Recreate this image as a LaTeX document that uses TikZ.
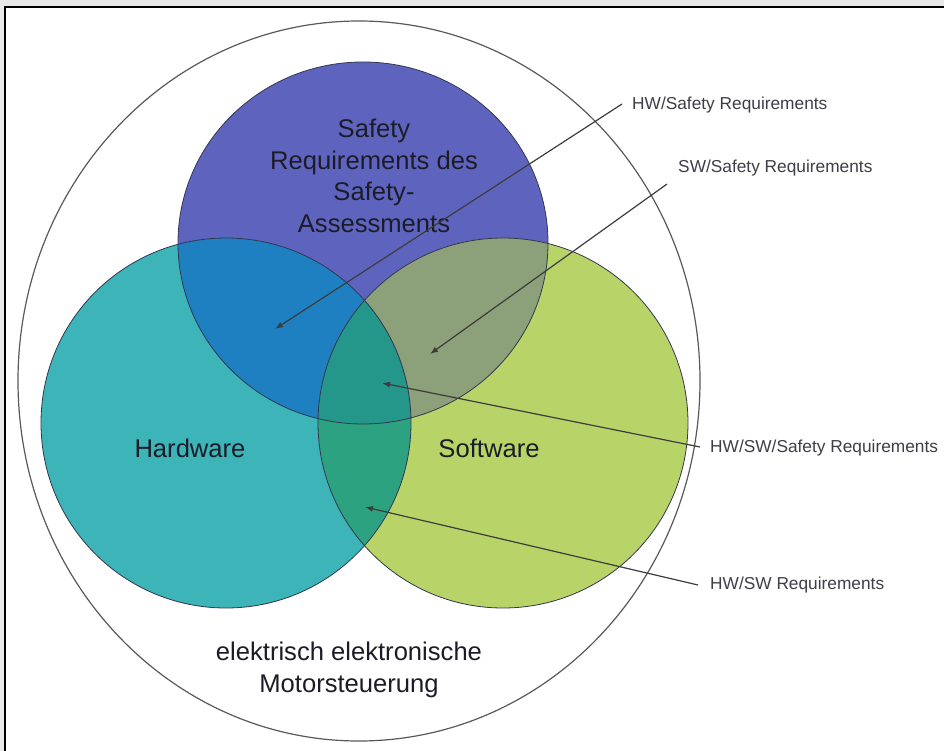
\documentclass[tikz,border=0pt]{standalone}
\usepackage{fontspec}
\setmainfont{Liberation Sans}
\usetikzlibrary{arrows.meta}
\definecolor{framegray}{RGB}{232,233,232}
\definecolor{safetyc}{RGB}{94,100,190}
\definecolor{hwc}{RGB}{60,180,184}
\definecolor{swc}{RGB}{184,212,104}
\definecolor{hwsafc}{RGB}{30,128,192}
\definecolor{swsafc}{RGB}{140,160,122}
\definecolor{hwswc}{RGB}{44,162,128}
\definecolor{triplec}{RGB}{36,150,138}
\definecolor{edgec}{RGB}{50,55,80}
\definecolor{linec}{RGB}{60,60,60}
\definecolor{txtc}{RGB}{28,28,40}
\begin{document}
\begin{tikzpicture}[x=1pt,y=-1pt,
  bigtxt/.style={text=txtc, align=center, font=\fontsize{25.6}{31.5}\selectfont, inner sep=0pt},
  lbl/.style={text=txtc!85, anchor=west, font=\fontsize{17.3}{20}\selectfont, inner sep=0pt},
  conn/.style={draw=linec, line width=1.2pt, -{Latex[length=8pt,width=6pt]}},
  ring/.style={draw=edgec, line width=0.8pt}]
\useasboundingbox (0,0) rectangle (944,751);
% frame
\fill[framegray] (0,0) rectangle (944,751);
\fill[white] (5,7) rectangle (944,751);
\draw[black, line width=2.2pt] (5,751) -- (5,7) -- (944,7);
% centres
\coordinate (ctrO) at (359,381);
\coordinate (ctrS) at (363,243);
\coordinate (ctrH) at (226,423);
\coordinate (ctrW) at (503,423);
% outer ellipse
\draw[draw=gray!70!black, line width=1.2pt] (ctrO) ellipse [x radius=341pt, y radius=360pt];
% main fills
\fill[safetyc] (ctrS) ellipse [x radius=185pt, y radius=181pt];
\fill[hwc] (ctrH) circle [radius=185pt];
\fill[swc] (ctrW) circle [radius=185pt];
% overlaps
\begin{scope}
  \clip (ctrS) ellipse [x radius=185pt, y radius=181pt];
  \fill[hwsafc] (ctrH) circle [radius=185pt];
  \fill[swsafc] (ctrW) circle [radius=185pt];
\end{scope}
\begin{scope}
  \clip (ctrH) circle [radius=185pt];
  \fill[hwswc] (ctrW) circle [radius=185pt];
\end{scope}
\begin{scope}
  \clip (ctrS) ellipse [x radius=185pt, y radius=181pt];
  \clip (ctrH) circle [radius=185pt];
  \fill[triplec] (ctrW) circle [radius=185pt];
\end{scope}
% outlines
\draw[ring] (ctrS) ellipse [x radius=185pt, y radius=181pt];
\draw[ring] (ctrH) circle [radius=185pt];
\draw[ring] (ctrW) circle [radius=185pt];
% texts
\node[bigtxt] (safety) at (374,176) {Safety\\Requirements des\\Safety-\\Assessments};
\node[bigtxt] (hw) at (190,448) {Hardware};
\node[bigtxt] (sw) at (489,448) {Software};
\node[bigtxt] (ee) at (349,670) {elektrisch elektronische\\Motorsteuerung};
% labels
\node[lbl] (l1) at (632,105) {HW/Safety Requirements};
\node[lbl] (l2) at (678,168) {SW/Safety Requirements};
\node[lbl] (l3) at (710,448) {HW/SW/Safety Requirements};
\node[lbl] (l4) at (710,585) {HW/SW Requirements};
% connector ends
\coordinate (s1) at (622,104);
\coordinate (s2) at (667,184);
\coordinate (s3) at (700,447);
\coordinate (s4) at (698,585);
\coordinate (p1) at (275,329);
\coordinate (p2) at (430,354);
\coordinate (p3) at (382,383);
\coordinate (p4) at (365,507);
\draw[conn] (s1) -- (p1);
\draw[conn] (s2) -- (p2);
\draw[conn] (s3) -- (p3);
\draw[conn] (s4) -- (p4);
\end{tikzpicture}
\end{document}
